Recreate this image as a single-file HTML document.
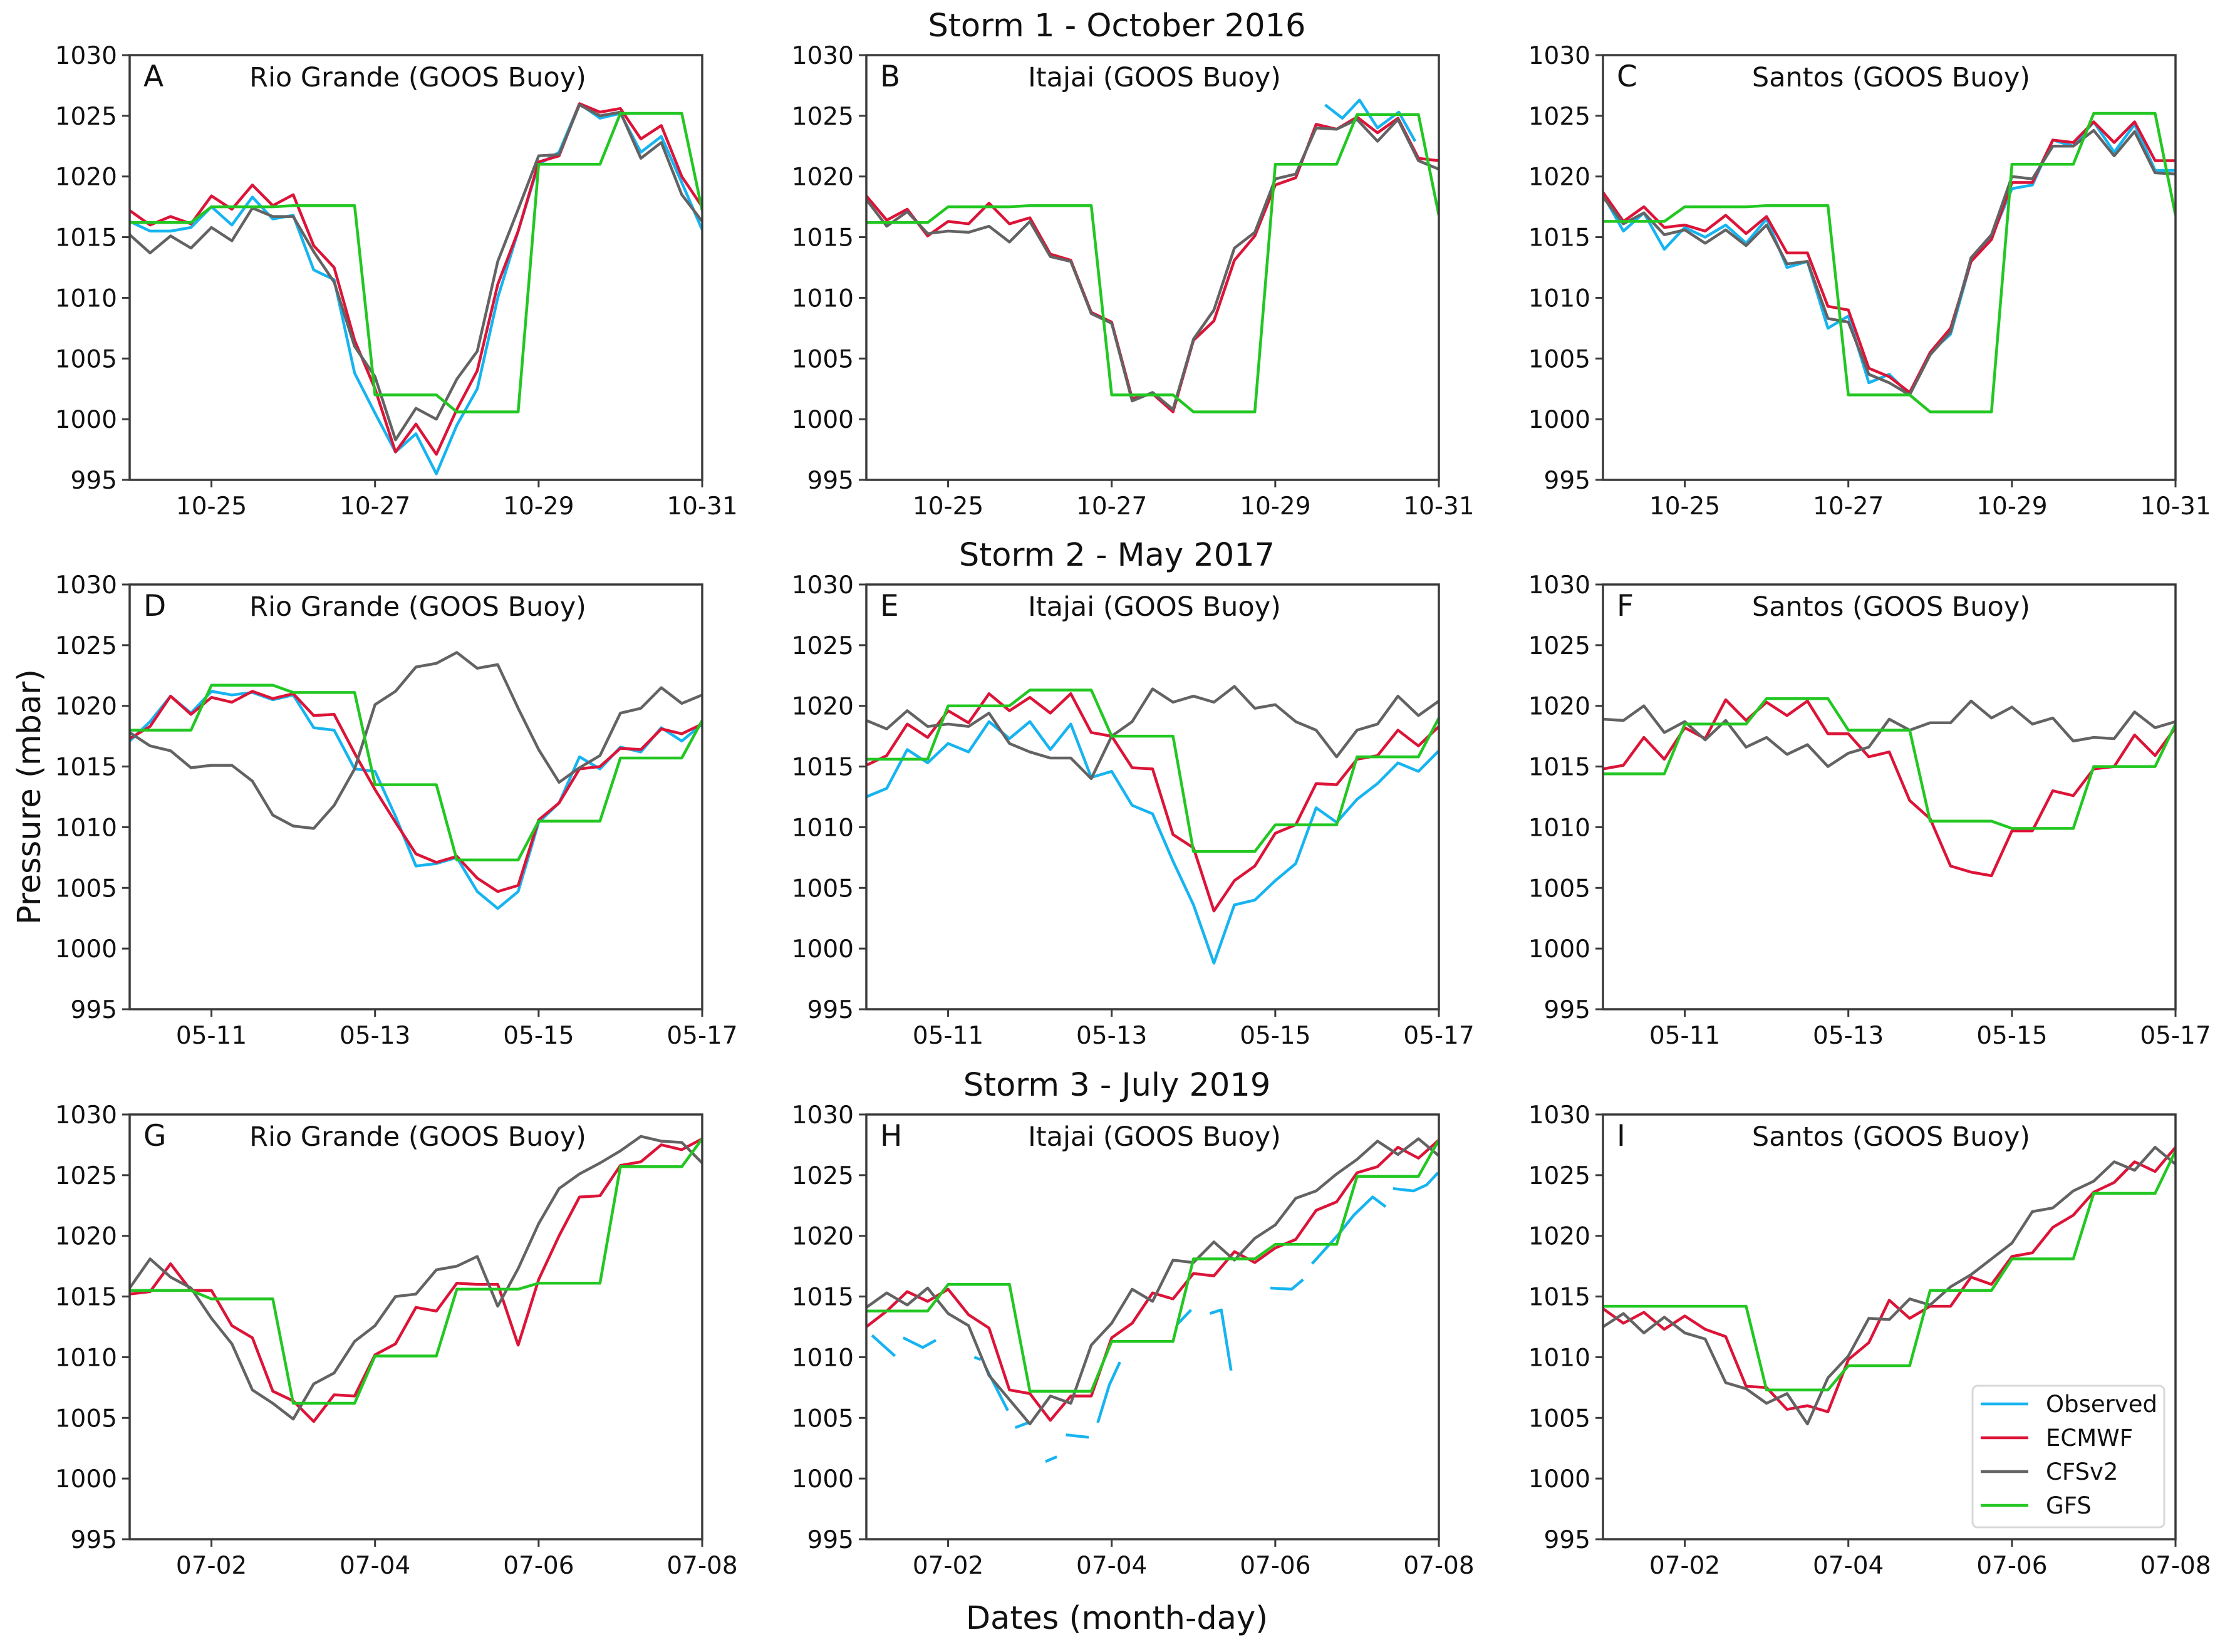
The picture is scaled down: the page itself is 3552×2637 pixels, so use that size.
<!DOCTYPE html>
<html><head><meta charset="utf-8">
<style>
html,body{margin:0;padding:0;background:#fff;}
svg{display:block;font-family:"DejaVu Sans","Liberation Sans",sans-serif;}
</style></head>
<body>
<svg id="fig" width="3552" height="2637" viewBox="0 0 3552 2637" xmlns="http://www.w3.org/2000/svg">
<rect x="0" y="0" width="3552" height="2637" fill="#fff"/>
</svg>
<script>
// ---------- data (mbar, sampled every 6 h from day 0 to day 7) ----------
const yTicks = [995,1000,1005,1010,1015,1020,1025,1030];
const xTickDays = [1,3,5,7];
const xTicksRow1 = ["10-25","10-27","10-29","10-31"];
const xTicksRow2 = ["05-11","05-13","05-15","05-17"];
const xTicksRow3 = ["07-02","07-04","07-06","07-08"];
const stormTitles = ["Storm 1 - October 2016","Storm 2 - May 2017","Storm 3 - July 2019"];
const stationNames = ["Rio Grande (GOOS Buoy)","Itajai (GOOS Buoy)","Santos (GOOS Buoy)"];

const obsA = [1016.3,1015.5,1015.5,1015.8,1017.5,1016,1018.3,1016.5,1016.8,1012.3,1011.5,1003.8,1000.5,997.3,998.8,995.5,999.5,1002.5,1010,1015.5,1021,1022,1026,1024.8,1025.2,1022,1023.3,1019.5,1015.6];
const ecA = [1017.2,1016,1016.7,1016.1,1018.4,1017.3,1019.3,1017.6,1018.5,1014.3,1012.5,1006.5,1002.5,997.3,999.6,997.1,1000.8,1004,1011.1,1015.5,1021.2,1021.7,1026,1025.3,1025.6,1023.1,1024.2,1020,1017.5];
const cfsA = [1015.2,1013.7,1015.1,1014.1,1015.8,1014.7,1017.4,1016.7,1016.7,1013.8,1011.3,1006,1003.5,998.3,1000.9,1000,1003.3,1005.6,1013,1017.3,1021.7,1021.8,1025.9,1025,1025.3,1021.5,1022.8,1018.5,1016.3];
const gfsA = [1016.2,1016.2,1016.2,1016.2,1017.5,1017.5,1017.5,1017.5,1017.6,1017.6,1017.6,1017.6,1002,1002,1002,1002,1000.6,1000.6,1000.6,1000.6,1021,1021,1021,1021,1025.2,1025.2,1025.2,1025.2,1017.2];

const obsBt = [5.61,5.82,6.03,6.25,6.51,6.71];
const obsB = [1025.9,1024.8,1026.3,1024.0,1025.3,1022.9];
const ecB = [1018.4,1016.4,1017.3,1015.1,1016.3,1016.1,1017.8,1016.1,1016.6,1013.6,1013.1,1008.8,1008.0,1001.7,1002.1,1000.6,1006.5,1008.1,1013.1,1015.1,1019.3,1019.9,1024.3,1023.9,1024.9,1023.6,1024.8,1021.5,1021.3];
const cfsB = [1018.1,1015.9,1017.1,1015.3,1015.5,1015.4,1015.9,1014.6,1016.3,1013.4,1013.0,1008.7,1007.9,1001.5,1002.2,1000.8,1006.6,1009.0,1014.1,1015.4,1019.8,1020.2,1024.0,1023.9,1024.7,1022.9,1024.7,1021.3,1020.6];
const gfsB = [1016.2,1016.2,1016.2,1016.2,1017.5,1017.5,1017.5,1017.5,1017.6,1017.6,1017.6,1017.6,1002,1002,1002,1002,1000.6,1000.6,1000.6,1000.6,1021,1021,1021,1021,1025.1,1025.1,1025.1,1025.1,1016.8];

const obsC = [1018.5,1015.5,1017,1014,1015.8,1015,1016,1014.5,1016.5,1012.5,1013,1007.5,1008.5,1003,1003.7,1002,1005.5,1007,1013,1015,1019,1019.3,1023,1022.5,1024.5,1022,1024.3,1020.5,1020.5];
const ecC = [1018.7,1016.3,1017.5,1015.8,1016,1015.5,1016.8,1015.3,1016.7,1013.7,1013.7,1009.3,1009,1004.2,1003.5,1002.2,1005.5,1007.5,1013,1014.8,1019.5,1019.5,1023,1022.8,1024.5,1022.8,1024.5,1021.3,1021.3];
const cfsC = [1018.3,1016.1,1017,1015.2,1015.6,1014.5,1015.6,1014.3,1016,1012.8,1013,1008.3,1008,1003.7,1003,1002,1005.3,1007.2,1013.3,1015.2,1020,1019.8,1022.5,1022.5,1023.8,1021.7,1023.7,1020.3,1020.2];
const gfsC = [1016.3,1016.3,1016.3,1016.3,1017.5,1017.5,1017.5,1017.5,1017.6,1017.6,1017.6,1017.6,1002,1002,1002,1002,1000.6,1000.6,1000.6,1000.6,1021,1021,1021,1021,1025.2,1025.2,1025.2,1025.2,1016.8];

const obsD = [1017.1,1018.7,1020.8,1019.4,1021.2,1020.9,1021.1,1020.5,1020.9,1018.2,1018,1014.8,1014.6,1010.9,1006.8,1007,1007.5,1004.7,1003.3,1004.7,1010.4,1012,1015.8,1014.8,1016.6,1016.2,1018.2,1017.1,1018.5];
const ecD = [1017.3,1018.3,1020.8,1019.3,1020.7,1020.3,1021.2,1020.6,1021,1019.2,1019.3,1016.1,1013.1,1010.4,1007.8,1007.1,1007.6,1005.8,1004.7,1005.2,1010.6,1012,1014.8,1015,1016.5,1016.4,1018.1,1017.7,1018.5];
const cfsD = [1017.8,1016.7,1016.3,1014.9,1015.1,1015.1,1013.8,1011.0,1010.1,1009.9,1011.8,1014.8,1020.1,1021.2,1023.2,1023.5,1024.4,1023.1,1023.4,1019.8,1016.4,1013.7,1014.9,1015.9,1019.4,1019.8,1021.5,1020.2,1020.9];
const gfsD = [1018,1018,1018,1018,1021.7,1021.7,1021.7,1021.7,1021.1,1021.1,1021.1,1021.1,1013.5,1013.5,1013.5,1013.5,1007.3,1007.3,1007.3,1007.3,1010.5,1010.5,1010.5,1010.5,1015.7,1015.7,1015.7,1015.7,1018.8];

const obsE = [1012.5,1013.2,1016.4,1015.3,1016.9,1016.2,1018.7,1017.3,1018.7,1016.4,1018.5,1014.1,1014.6,1011.8,1011.1,1007.2,1003.6,998.8,1003.6,1004.0,1005.6,1007.0,1011.6,1010.4,1012.3,1013.6,1015.3,1014.6,1016.3];
const ecE = [1015.1,1015.9,1018.5,1017.4,1019.6,1018.6,1021.0,1019.6,1020.7,1019.4,1021.0,1017.8,1017.5,1014.9,1014.8,1009.4,1008.3,1003.1,1005.6,1006.8,1009.5,1010.2,1013.6,1013.5,1015.6,1015.9,1018.0,1016.7,1018.3];
const cfsE = [1018.8,1018.1,1019.6,1018.3,1018.5,1018.3,1019.4,1016.9,1016.2,1015.7,1015.7,1014.0,1017.5,1018.7,1021.4,1020.3,1020.8,1020.3,1021.6,1019.8,1020.1,1018.7,1018.0,1015.8,1018.0,1018.5,1020.8,1019.2,1020.4];
const gfsE = [1015.6,1015.6,1015.6,1015.6,1020.0,1020.0,1020.0,1020.0,1021.3,1021.3,1021.3,1021.3,1017.5,1017.5,1017.5,1017.5,1008.0,1008.0,1008.0,1008.0,1010.2,1010.2,1010.2,1010.2,1015.8,1015.8,1015.8,1015.8,1019.0];

const ecF = [1014.8,1015.1,1017.4,1015.6,1018.2,1017.3,1020.5,1018.8,1020.3,1019.2,1020.4,1017.7,1017.7,1015.8,1016.2,1012.2,1010.7,1006.8,1006.3,1006.0,1009.7,1009.7,1013.0,1012.6,1014.8,1015.0,1017.6,1015.9,1018.2];
const cfsF = [1018.9,1018.8,1020.0,1017.8,1018.7,1017.2,1018.8,1016.6,1017.4,1016.0,1016.8,1015.0,1016.1,1016.6,1018.9,1018.0,1018.6,1018.6,1020.4,1019.0,1019.9,1018.5,1019.0,1017.1,1017.4,1017.3,1019.5,1018.2,1018.7];
const gfsF = [1014.4,1014.4,1014.4,1014.4,1018.5,1018.5,1018.5,1018.5,1020.6,1020.6,1020.6,1020.6,1018.0,1018.0,1018.0,1018.0,1010.5,1010.5,1010.5,1010.5,1009.9,1009.9,1009.9,1009.9,1015.0,1015.0,1015.0,1015.0,1018.5];

const ecG = [1015.2,1015.4,1017.7,1015.5,1015.5,1012.6,1011.6,1007.2,1006.4,1004.7,1006.9,1006.8,1010.2,1011.1,1014.1,1013.8,1016.1,1016.0,1016.0,1011.0,1016.4,1020.0,1023.2,1023.3,1025.8,1026.1,1027.5,1027.1,1028.0];
const cfsG = [1015.7,1018.1,1016.6,1015.7,1013.2,1011.1,1007.3,1006.2,1004.9,1007.8,1008.7,1011.3,1012.6,1015.0,1015.2,1017.2,1017.5,1018.3,1014.2,1017.3,1021.0,1023.9,1025.1,1026.0,1027.0,1028.2,1027.8,1027.7,1026.0];
const gfsG = [1015.5,1015.5,1015.5,1015.5,1014.8,1014.8,1014.8,1014.8,1006.2,1006.2,1006.2,1006.2,1010.1,1010.1,1010.1,1010.1,1015.6,1015.6,1015.6,1015.6,1016.1,1016.1,1016.1,1016.1,1025.7,1025.7,1025.7,1025.7,1028.0];

const obsHt = [0.07,0.35,null,0.45,0.69,0.85,null,1.32,1.40,null,1.45,1.73,null,1.82,1.98,null,2.19,2.33,null,2.44,2.72,null,2.83,2.97,3.10,null,3.80,3.97,null,4.20,4.34,4.46,null,4.94,5.20,5.34,null,5.45,5.77,5.96,6.19,6.35,null,6.44,6.69,6.85,6.99];
const obsH = [1011.8,1010.1,null,1011.6,1010.8,1011.4,null,1010.0,1009.8,null,1009.3,1005.6,null,1004.2,1004.6,null,1001.4,1001.8,null,1003.6,1003.4,null,1004.6,1007.7,1009.6,null,1012.7,1013.9,null,1013.6,1013.9,1008.9,null,1015.7,1015.6,1016.4,null,1017.7,1020.1,1021.7,1023.2,1022.4,null,1023.9,1023.7,1024.2,1025.2];
const ecH = [1012.5,1013.8,1015.4,1014.6,1015.6,1013.5,1012.4,1007.3,1007.0,1004.8,1006.8,1006.8,1011.6,1012.8,1015.3,1014.8,1016.9,1016.7,1018.7,1017.8,1019.0,1019.7,1022.1,1022.8,1025.2,1025.7,1027.3,1026.4,1027.9];
const cfsH = [1014.1,1015.3,1014.3,1015.7,1013.6,1012.6,1008.5,1006.5,1004.5,1006.8,1006.2,1011.0,1012.8,1015.6,1014.6,1018.0,1017.8,1019.5,1018.0,1019.8,1020.9,1023.1,1023.7,1025.1,1026.3,1027.8,1026.7,1028.0,1026.6];
const gfsH = [1013.8,1013.8,1013.8,1013.8,1016.0,1016.0,1016.0,1016.0,1007.2,1007.2,1007.2,1007.2,1011.3,1011.3,1011.3,1011.3,1018.1,1018.1,1018.1,1018.1,1019.3,1019.3,1019.3,1019.3,1024.9,1024.9,1024.9,1024.9,1027.9];

const ecI = [1014.0,1012.8,1013.7,1012.3,1013.4,1012.3,1011.7,1007.6,1007.5,1005.7,1006.0,1005.5,1009.8,1011.2,1014.7,1013.2,1014.2,1014.2,1016.6,1016.0,1018.3,1018.6,1020.7,1021.7,1023.6,1024.4,1026.1,1025.3,1027.3];
const cfsI = [1012.5,1013.6,1012.0,1013.3,1012.0,1011.5,1007.9,1007.4,1006.2,1007.0,1004.5,1008.3,1010.1,1013.2,1013.1,1014.8,1014.3,1015.8,1016.8,1018.1,1019.4,1022.0,1022.3,1023.7,1024.5,1026.1,1025.4,1027.3,1025.9];
const gfsI = [1014.2,1014.2,1014.2,1014.2,1014.2,1014.2,1014.2,1014.2,1007.3,1007.3,1007.3,1007.3,1009.3,1009.3,1009.3,1009.3,1015.5,1015.5,1015.5,1015.5,1018.1,1018.1,1018.1,1018.1,1023.5,1023.5,1023.5,1023.5,1027.0];

const legendLabels = ["Observed","ECMWF","CFSv2","GFS"];

// ---------- layout ----------
const NS = "http://www.w3.org/2000/svg";
const svg = document.getElementById("fig");
const colLeft = [207,1383,2559], rowTop = [88,933,1779];
const PW = 914, PH = 678;
const COLORS = {obs:"#16b4f0", ec:"#dc1438", cfs:"#636363", gfs:"#22c722"};
const xTickSets = [xTicksRow1, xTicksRow2, xTicksRow3];

function mk(tag, attrs, parent){
  const e = document.createElementNS(NS, tag);
  for (const k in attrs) e.setAttribute(k, attrs[k]);
  (parent||svg).appendChild(e);
  return e;
}
function txt(str, attrs, parent){
  const e = mk("text", attrs, parent);
  e.textContent = str;
  return e;
}

const panels = [
  {id:"A", r:0,c:0, obs:obsA, ec:ecA, cfs:cfsA, gfs:gfsA},
  {id:"B", r:0,c:1, obs:obsB, obsT:obsBt, ec:ecB, cfs:cfsB, gfs:gfsB},
  {id:"C", r:0,c:2, obs:obsC, ec:ecC, cfs:cfsC, gfs:gfsC},
  {id:"D", r:1,c:0, obs:obsD, ec:ecD, cfs:cfsD, gfs:gfsD},
  {id:"E", r:1,c:1, obs:obsE, ec:ecE, cfs:cfsE, gfs:gfsE},
  {id:"F", r:1,c:2, obs:null, ec:ecF, cfs:cfsF, gfs:gfsF},
  {id:"G", r:2,c:0, obs:null, ec:ecG, cfs:cfsG, gfs:gfsG},
  {id:"H", r:2,c:1, obs:obsH, obsT:obsHt, ec:ecH, cfs:cfsH, gfs:gfsH},
  {id:"I", r:2,c:2, obs:null, ec:ecI, cfs:cfsI, gfs:gfsI}
];

// storm titles
stormTitles.forEach((t,i)=>{
  const e = txt(t, {x:1783, y:rowTop[i]-30, "text-anchor":"middle", "font-size":51, fill:"#111"});
  
  
});

panels.forEach(p=>{
  const L = colLeft[p.c], T = rowTop[p.r];
  const g = mk("g", {});
  
  
  const xs = d => L + d/7*PW;
  const ys = v => T + PH - (v-995)/35*PH;

  const cp = mk("clipPath", {id:"clip"+p.id}, g);
  mk("rect", {x:L, y:T, width:PW, height:PH}, cp);

  function line(vals, times, color, name){
    if(!vals) return;
    let d = "", pen = false;
    vals.forEach((v,i)=>{
      const t = times ? times[i] : i/4;
      if (v===null || t===null){ pen=false; return; }
      d += (pen?"L":"M") + xs(t).toFixed(1) + " " + ys(v).toFixed(1) + " ";
      pen = true;
    });
    const e = mk("path", {d:d, fill:"none", stroke:color, "stroke-width":4.5, "stroke-linejoin":"round", "clip-path":"url(#clip"+p.id+")"}, g);
    
    
  }
  line(p.obs, p.obsT, COLORS.obs, "observed");
  line(p.ec, null, COLORS.ec, "ecmwf");
  line(p.cfs, null, COLORS.cfs, "cfsv2");
  line(p.gfs, null, COLORS.gfs, "gfs");

  const fr = mk("rect", {x:L, y:T, width:PW, height:PH, fill:"none", stroke:"#3a3a3a", "stroke-width":3.5}, g);
  
  

  yTicks.forEach(v=>{
    const y = ys(v);
    mk("line", {x1:L-12, x2:L, y1:y, y2:y, stroke:"#3a3a3a", "stroke-width":3}, g);
    const e = txt(String(v), {x:L-20, y:y+14, "text-anchor":"end", "font-size":39, fill:"#111"}, g);
    
    
  });
  xTickDays.forEach((d,i)=>{
    const x = xs(d);
    mk("line", {x1:x, x2:x, y1:T+PH, y2:T+PH+12, stroke:"#3a3a3a", "stroke-width":3}, g);
    const e = txt(xTickSets[p.r][i], {x:x, y:T+PH+55, "text-anchor":"middle", "font-size":39, fill:"#111"}, g);
    
    
  });
  const lt = txt(p.id, {x:L+22, y:T+50, "font-size":47, fill:"#111"}, g);
  
  
  const tt = txt(stationNames[p.c], {x:L+PW/2+3, y:T+50, "text-anchor":"middle", "font-size":43, fill:"#111"}, g);
  
  
});

// legend in panel I
const lg = mk("g", {});


mk("rect", {x:3149, y:2212, width:306, height:226, rx:8, fill:"#fff", "fill-opacity":0.85, stroke:"#d8d8d8", "stroke-width":3}, lg);
const legColors = [COLORS.obs, COLORS.ec, COLORS.cfs, COLORS.gfs];
legendLabels.forEach((lab,i)=>{
  const y = 2241 + i*54;
  const ent = mk("g", {}, lg);
  
  
  mk("line", {x1:3162, x2:3238, y1:y, y2:y, stroke:legColors[i], "stroke-width":4.5}, ent);
  txt(lab, {x:3266, y:y+13, "font-size":37, fill:"#111"}, ent);
});

// axis labels
const yl = txt("Pressure (mbar)", {x:0, y:0, transform:"translate(64,1272) rotate(-90)", "text-anchor":"middle", "font-size":51, fill:"#111"});


const xl = txt("Dates (month-day)", {x:1783, y:2600, "text-anchor":"middle", "font-size":51, fill:"#111"});


</script>
</body></html>
